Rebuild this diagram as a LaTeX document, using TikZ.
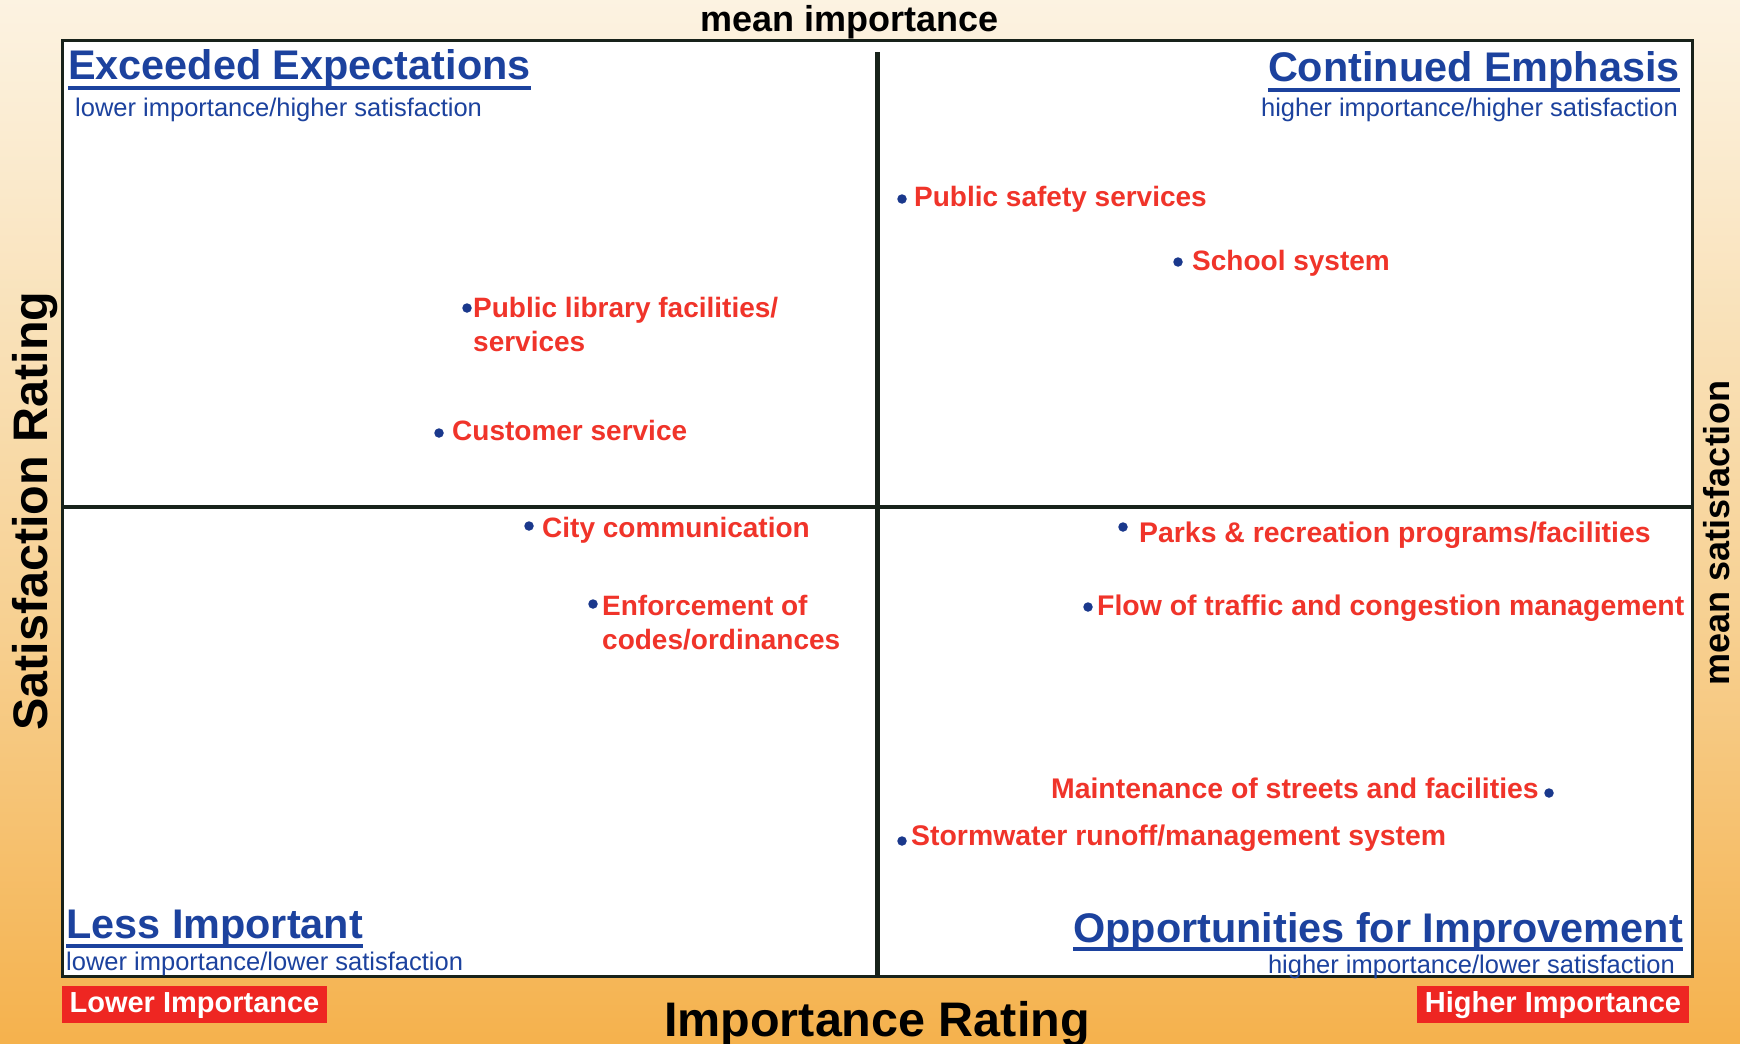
\documentclass[tikz,border=0pt]{standalone}
\usepackage{fontspec}
\setmainfont{Liberation Sans}
\definecolor{qblue}{RGB}{28,66,158}
\definecolor{svcred}{RGB}{240,52,42}
\definecolor{dotblue}{RGB}{26,56,140}
\definecolor{tagred}{RGB}{238,38,34}
\definecolor{gridline}{RGB}{24,34,26}
\definecolor{bgA}{RGB}{254,253,250}
\definecolor{bgB}{RGB}{253,248,238}
\definecolor{bgC}{RGB}{250,232,200}
\definecolor{bgD}{RGB}{247,208,145}
\definecolor{bgE}{RGB}{244,170,60}
\definecolor{bgF}{RGB}{242,160,45}
\pgfdeclareverticalshading{bgfade}{100bp}{color(0bp)=(bgF); color(20bp)=(bgE); color(45bp)=(bgD); color(65bp)=(bgC); color(80bp)=(bgB); color(100bp)=(bgA)}

\begin{document}
\begin{tikzpicture}[x=1pt, y=-1pt,
  svc/.style = {anchor=base west, inner sep=0pt, text=svcred, align=left, font=\fontsize{28}{34}\selectfont\bfseries},
  svcw/.style = {svc, font=\fontsize{28.4}{34}\selectfont\bfseries},
  bullet/.style = {circle, fill=dotblue, inner sep=0pt, minimum size=9.5pt},
  qtitle/.style = {inner sep=0pt, text=qblue, font=\fontsize{41.4}{48}\selectfont\bfseries},
  qsub/.style = {inner sep=0pt, text=qblue, font=\fontsize{25.5}{30}\selectfont},
  uline/.style = {qblue, line width=3.5pt},
  axislab/.style = {inner sep=0pt, font=\fontsize{48.5}{56}\selectfont\bfseries},
  meanlab/.style = {inner sep=0pt, font=\fontsize{36}{42}\selectfont\bfseries},
  tag/.style = {fill=tagred, text=white, inner xsep=8pt, inner ysep=5pt, text height=21pt, text depth=6pt, font=\fontsize{29}{34}\selectfont\bfseries}]
\useasboundingbox (0,0) rectangle (1740,1044);
\shade[shading=bgfade] (0,0) rectangle (1740,1044);
\draw[gridline, fill=white, line width=3pt] (62,40) rectangle (1692,976);
\draw[gridline, line width=5pt] (877,52) -- (877,976);
\draw[gridline, line width=4pt] (62,507) -- (1692,507);

\node[meanlab, anchor=base] (mimp) at (850,31) {mean importance};
\node[meanlab, rotate=90] (msat) at (1717,533) {mean satisfaction};
\node[axislab, rotate=90] (satax) at (35,511) {Satisfaction Rating};
\node[axislab, anchor=base] (impax) at (877,1036) {Importance Rating};
\node[tag] (lowtag) at (194.5,1004.5) {Lower Importance};
\node[tag] (hightag) at (1553,1004.5) {Higher Importance};

\node[qtitle, anchor=base west] (ee) at (68,79) {Exceeded Expectations};
\node[qsub, anchor=base west] (ees) at (75,116) {lower importance/higher satisfaction};
\node[qtitle, anchor=base east] (ce) at (1680,81) {Continued Emphasis};
\node[qsub, anchor=base east] (ces) at (1678,116) {higher importance/higher satisfaction};
\node[qtitle, anchor=base west] (li) at (66,938) {Less Important};
\node[qsub, anchor=base west] (lis) at (66,970) {lower importance/lower satisfaction};
\node[qtitle, anchor=base east] (oi) at (1683,942) {Opportunities for Improvement};
\node[qsub, anchor=base east] (ois) at (1675,973) {higher importance/lower satisfaction};
\draw[uline] ([yshift=-9pt]ee.base west) -- ([yshift=-9pt]ee.base east);
\draw[uline] ([yshift=-9pt]ce.base west) -- ([yshift=-9pt]ce.base east);
\draw[uline] ([yshift=-8pt]li.base west) -- ([yshift=-8pt]li.base east);
\draw[uline] ([yshift=-7pt]oi.base west) -- ([yshift=-7pt]oi.base east);

\node[bullet] (d1) at (902,199) {};
\node[svc] (safety) at (914,206) {Public safety services};
\node[bullet] (d2) at (1178,262) {};
\node[svc] (school) at (1192,270) {School system};
\node[bullet] (d3) at (467,308) {};
\node[svc] (library) at (473,351) {Public library facilities/\\services};
\node[bullet] (d4) at (439,433) {};
\node[svc] (custserv) at (452,440) {Customer service};
\node[bullet] (d5) at (529,526) {};
\node[svc] (citycomm) at (542,537) {City communication};
\node[bullet] (d6) at (593,604) {};
\node[svc] (codes) at (602,649) {Enforcement of\\codes/ordinances};
\node[bullet] (d7) at (1123,527) {};
\node[svcw] (parks) at (1139,542) {Parks \& recreation programs/facilities};
\node[bullet] (d8) at (1088,607) {};
\node[svcw] (traffic) at (1097,615) {Flow of traffic and congestion management};
\node[bullet] (d9) at (1549,793) {};
\node[svcw, anchor=base east] (streets) at (1539,798) {Maintenance of streets and facilities};
\node[bullet] (d10) at (902,841) {};
\node[svcw] (storm) at (911,845) {Stormwater runoff/management system};
\end{tikzpicture}
\end{document}
